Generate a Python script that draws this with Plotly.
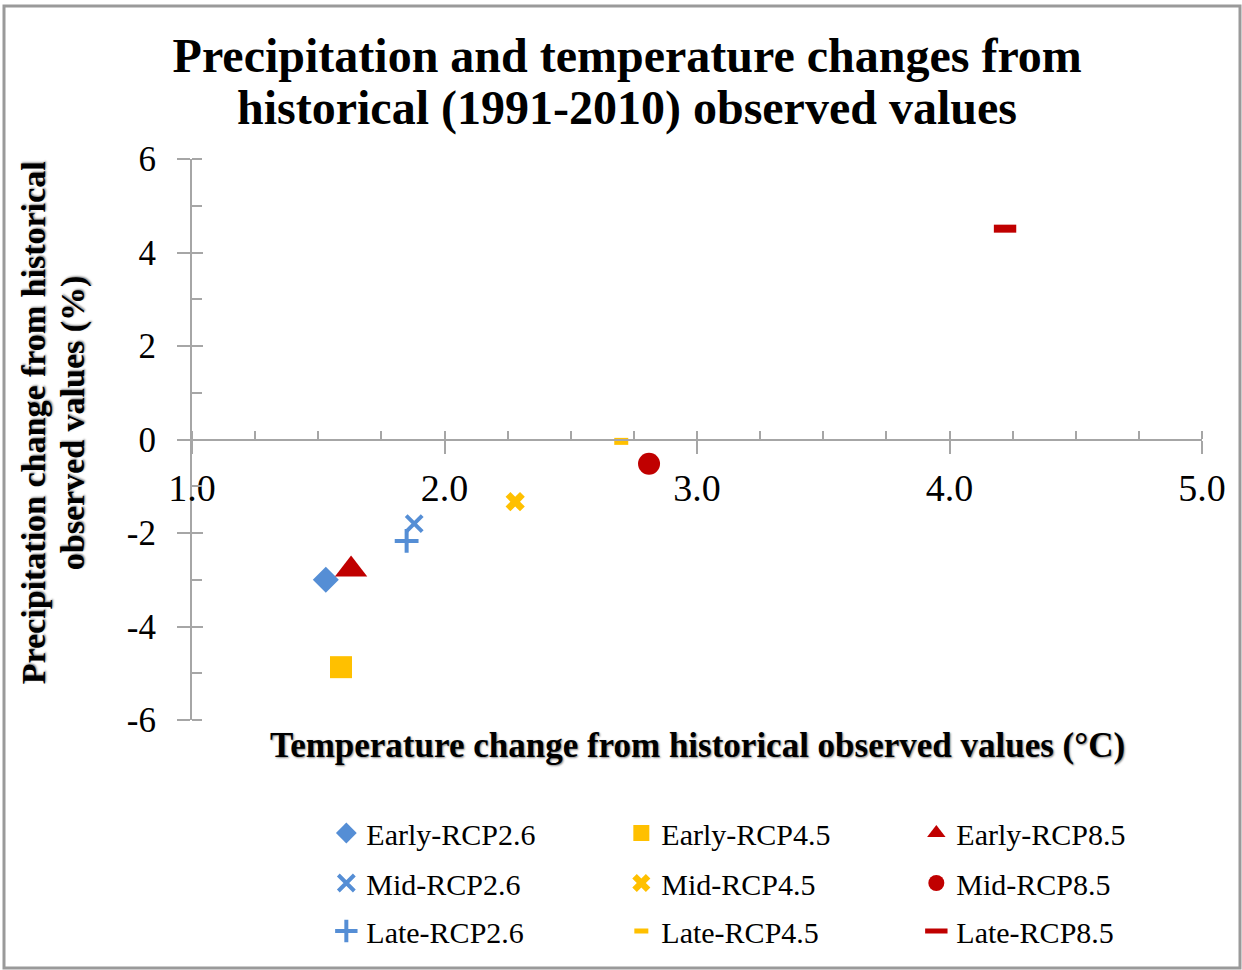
import plotly.graph_objects as go

series_names = ["Early-RCP2.6", "Early-RCP4.5", "Early-RCP8.5",
                "Mid-RCP2.6", "Mid-RCP4.5", "Mid-RCP8.5",
                "Late-RCP2.6", "Late-RCP4.5", "Late-RCP8.5"]
temp_change = [1.53, 1.59, 1.63, 1.88, 2.28, 2.81, 1.85, 2.70, 4.22]
precip_change = [-3.00, -4.87, -2.78, -1.80, -1.33, -0.52, -2.17, -0.04, 4.51]
x_tick_vals = [1, 2, 3, 4, 5]
x_tick_text = ["1.0", "2.0", "3.0", "4.0", "5.0"]
y_tick_vals = [-6, -4, -2, 0, 2, 4, 6]
y_tick_text = ["-6", "-4", "-2", "0", "2", "4", "6"]
title_lines = ["Precipitation and temperature changes from",
               "historical (1991-2010) observed values"]
y_title_lines = ["Precipitation change from historical", "observed values (%)"]
x_title = "Temperature change from historical observed values (°C)"

BLUE = "#558ED5"
YELLOW = "#FFC000"
RED = "#C00000"
AX = "#A6A6A6"
FONT = "Liberation Serif"

styles = [
    dict(symbol="diamond", size=20, color=BLUE),
    dict(symbol="square", size=22, color=YELLOW),
    dict(symbol="triangle-up", size=28, color=RED),
    dict(symbol="x-thin", size=16, color=BLUE, line=dict(color=BLUE, width=4)),
    dict(symbol="x", size=17, color=YELLOW),
    dict(symbol="circle", size=22, color=RED),
    dict(symbol="cross-thin", size=17, color=BLUE, line=dict(color=BLUE, width=4)),
    dict(symbol="line-ew", size=10, color=YELLOW, line=dict(color=YELLOW, width=7)),
    dict(symbol="line-ew", size=16, color=RED, line=dict(color=RED, width=8)),
]
legend_ids = ["legend", "legend", "legend", "legend2", "legend2", "legend2",
              "legend3", "legend3", "legend3"]

fig = go.Figure()
for name, xv, yv, st, lg in zip(series_names, temp_change, precip_change, styles, legend_ids):
    fig.add_trace(go.Scatter(x=[xv], y=[yv], mode="markers", name=name,
                             marker=st, legend=lg))

# invisible trace to activate overlay axes (crossing major ticks)
fig.add_trace(go.Scatter(x=[1], y=[0], xaxis="x2", yaxis="y2", mode="markers",
                         marker=dict(opacity=0), showlegend=False, hoverinfo="skip"))

def leg(y):
    return dict(orientation="h", x=0.133, xanchor="left", y=y, yanchor="middle",
                entrywidth=250, entrywidthmode="pixels", bgcolor="rgba(0,0,0,0)",
                font=dict(family=FONT, size=30, color="black"), itemsizing="trace")

shadow = "1px 1px 2px #888"
fig.update_layout(
    width=1242, height=970,
    margin=dict(l=192, r=40, t=159, b=250),
    paper_bgcolor="white", plot_bgcolor="white",
    title=dict(text="<b>" + title_lines[0] + "</b>",
               x=0.505, xanchor="center", y=1 - 55 / 970, yanchor="middle",
               font=dict(family=FONT, size=48, color="black")),
    xaxis=dict(range=[1, 5], anchor="free", position=0.5, showline=True,
               linecolor=AX, linewidth=2, showgrid=False, zeroline=False,
               tickmode="array", tickvals=x_tick_vals, ticktext=x_tick_text,
               ticks="outside", ticklen=13, tickwidth=2, tickcolor=AX,
               ticklabelstandoff=2,
               minor=dict(ticks="inside", dtick=0.25, ticklen=8, tickwidth=2, tickcolor=AX),
               tickfont=dict(family=FONT, size=38, color="black")),
    yaxis=dict(range=[-6, 6], showline=True, linecolor=AX, linewidth=2,
               showgrid=False, zeroline=False,
               tickmode="array", tickvals=y_tick_vals, ticktext=y_tick_text,
               ticks="outside", ticklen=13, tickwidth=2, tickcolor=AX,
               ticklabelstandoff=14,
               minor=dict(ticks="inside", dtick=1, ticklen=10, tickwidth=2, tickcolor=AX),
               tickfont=dict(family=FONT, size=35, color="black")),
    xaxis2=dict(range=[1, 5], overlaying="x", anchor="free", position=0.5,
                showline=False, showgrid=False, zeroline=False, dtick=1,
                ticks="inside", ticklen=9, tickwidth=2, tickcolor=AX,
                showticklabels=False),
    yaxis2=dict(range=[-6, 6], overlaying="y", anchor="x2", showline=False,
                showgrid=False, zeroline=False, dtick=2, ticks="inside",
                ticklen=11, tickwidth=2, tickcolor=AX, showticklabels=False),
    legend=leg(-0.2014),
    legend2=leg(-0.2906),
    legend3=leg(-0.376),
    showlegend=True,
    annotations=[
        dict(text="<b>" + title_lines[1] + "</b>",
             xref="paper", yref="paper", x=(627 - 192) / 1010, y=(720 - 108) / 561,
             xanchor="center", yanchor="middle", showarrow=False,
             font=dict(family=FONT, size=48, color="black")),
        dict(text="<b>" + x_title + "</b>",
             xref="paper", yref="paper", x=(697 - 192) / 1010, y=-0.046,
             xanchor="center", yanchor="middle", showarrow=False,
             font=dict(family=FONT, size=35, color="black", shadow=shadow)),
        dict(text="<b>" + y_title_lines[0] + "</b>",
             xref="paper", yref="paper", x=(33 - 192) / 1010, y=0.529,
             xanchor="center", yanchor="middle", textangle=-90, showarrow=False,
             font=dict(family=FONT, size=34, color="black", shadow=shadow)),
        dict(text="<b>" + y_title_lines[1] + "</b>",
             xref="paper", yref="paper", x=(73 - 192) / 1010, y=0.529,
             xanchor="center", yanchor="middle", textangle=-90, showarrow=False,
             font=dict(family=FONT, size=34, color="black", shadow=shadow)),
    ],
    shapes=[dict(type="rect", xref="paper", yref="paper",
                 x0=(4 - 192) / 1010, x1=(1240 - 192) / 1010,
                 y0=(720 - 968) / 561, y1=(720 - 6) / 561,
                 line=dict(color="#9A9A9A", width=3), layer="below")],
)

fig.write_html("out.html", config={"responsive": False, "displayModeBar": False},
               post_script="document.body.style.margin='0';document.body.style.overflow='hidden';")
